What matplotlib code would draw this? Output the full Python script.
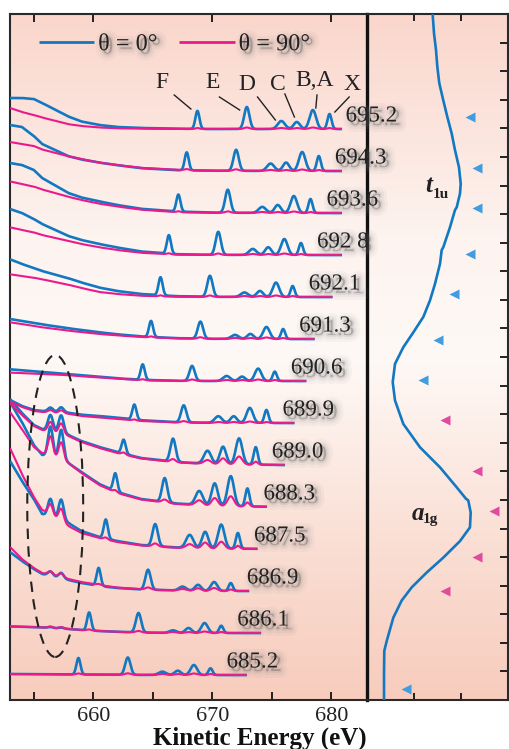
import numpy as np
import matplotlib
matplotlib.use('Agg')
import matplotlib.pyplot as plt
import matplotlib.patheffects as pe
from matplotlib.patches import Ellipse

SERIF = 'Liberation Serif'
plt.rcParams['font.family'] = [SERIF, 'DejaVu Serif']

# ---------------- data ----------------
photon_energy = [695.2, 694.3, 693.6, 692.8, 692.1, 691.3, 690.6,
                 689.9, 689.0, 688.3, 687.5, 686.9, 686.1, 685.2]
energy_labels = ['695.2', '694.3', '693.6', '692 8', '692.1', '691.3', '690.6',
                 '689.9', '689.0', '688.3', '687.5', '686.9', '686.1', '685.2']
trace_end_ke = [680.9, 680.9, 680.9, 680.9, 680.1, 678.6, 677.9,
                676.9, 676.1, 674.6, 673.8, 673.1, 674.1, 672.9]

state_names = ['F', 'E', 'D', 'C', 'B,A', 'X']
state_binding = [26.45, 22.3, 19.4, 18.1, 16.75, 15.35]
state_width = [0.17, 0.22, 0.3, 0.26, 0.27, 0.17]
auger_ke = [656.4, 657.3]
auger_width = 0.21

bg_ke = [653, 654, 655, 655.7, 657.9, 659, 660.5, 662, 664, 667, 670, 676, 683]
blue_bg = [
    [31, 31, 30, 26, 12.5, 7.5, 4, 2, 1, 0.3, 0, 0, 0],
    [46, 44, 35, 27, 14.8, 11.5, 8.4, 5.8, 2.8, 0.8, 0.3, 0, 0],
    [50, 48, 43, 35, 20, 15.5, 11.6, 8, 4.2, 1.5, 0.4, 0, 0],
    [46, 42, 36, 31, 19, 15, 11, 7.5, 3.5, 0.8, 0.2, 0, 0],
    [37.7, 33, 29, 26, 18.8, 14.5, 9.4, 6, 3, 0.8, 0.2, 0, 0],
    [20, 18, 16, 14.6, 10.7, 9, 6.7, 4.7, 2.6, 0.8, 0.2, 0, 0],
    [11.7, 10.7, 9.7, 9, 6.8, 5.7, 4.2, 2.7, 1.2, 0.2, 0, 0, 0],
    [23, 17, 13, 12, 10.2, 8.3, 7, 5.3, 2.8, 0.8, 0.2, 0, 0],
    [66, 52, 40, 36, 30, 24, 18, 13, 7, 3, 1, 0, 0],
    [105, 85, 62, 52, 44, 35, 23, 15, 8, 3.5, 1.2, 0, 0],
    [88, 68, 50, 35, 26, 18, 12, 8, 4, 1.5, 0.5, 0, 0],
    [39, 30, 22, 17, 11, 8, 5, 3, 1.5, 0.5, 0, 0, 0],
    [6.6, 6.2, 5.8, 5.5, 4, 3, 2, 1.2, 0.5, 0, 0, 0, 0],
    [1, 0.9, 0.8, 0.7, 0.6, 0.5, 0.4, 0.3, 0.1, 0, 0, 0, 0],
]
pink_bg = [
    [21, 17, 14, 11.5, 4.8, 3, 1.5, 0.7, 0.3, 0, 0, 0, 0],
    [29, 27, 25, 21.5, 14.7, 12, 8.4, 6, 3.2, 1.2, 0.3, 0, 0],
    [31.6, 29, 26.5, 23.5, 16.2, 13, 9.3, 6.5, 3.3, 0.8, 0.2, 0, 0],
    [27.7, 25, 22.6, 20, 14, 11, 7.7, 5, 2.2, 0.3, 0, 0, 0],
    [22.7, 21, 19.3, 17.7, 12.3, 9, 5, 3, 1.2, 0.2, 0, 0, 0],
    [16.7, 15, 13, 11.7, 8.3, 7, 5, 3.6, 2, 0.6, 0.1, 0, 0],
    [8.4, 7.9, 7.4, 7.1, 5.8, 4.7, 3.5, 2.2, 0.8, 0, 0, 0, 0],
    [21.6, 16, 12, 11, 9.2, 7, 5.5, 4, 2, 0.5, 0, 0, 0],
    [62, 50, 39, 35, 29, 23, 17, 12, 6.5, 2.5, 0.8, 0, 0],
    [95, 78, 60, 54, 44, 34, 22, 14, 7.5, 3, 1, 0, 0],
    [101, 75, 52, 39, 23, 16, 11, 7, 3.5, 1.2, 0.3, 0, 0],
    [44, 32, 23, 18, 12, 9, 6, 3.5, 1.8, 0.6, 0, 0, 0],
    [6.6, 6.2, 5.8, 5.5, 4, 3, 2, 1.2, 0.5, 0, 0, 0, 0],
    [1, 0.9, 0.8, 0.7, 0.6, 0.5, 0.4, 0.3, 0.1, 0, 0, 0, 0],
]
blue_peaks = [
    [18, 22, 8, 7, 19, 15],
    [18, 21, 7.4, 8.4, 19, 15],
    [17, 23, 6, 8, 17, 14],
    [18.5, 23, 6, 7.7, 16, 12],
    [18, 21, 4.4, 6, 14.4, 11],
    [16, 17, 4, 5, 12, 10],
    [15.5, 15, 5, 4.4, 12.4, 9.4],
    [15, 17, 6.6, 6.6, 15, 13],
    [14, 23, 13, 17.5, 26, 17.5],
    [18, 24, 14, 22.5, 30, 18],
    [19, 22, 13, 16.5, 24, 15.7],
    [18, 20, 4, 6, 9, 8],
    [18, 19.5, 2.6, 5, 10, 7.3],
    [16.5, 17.3, 3.3, 4.3, 10, 6.7],
]
pink_peaks = [
    [1, 1.5, 1, 1, 1.5, 1],
    [1, 1.5, 1, 1, 1.5, 1],
    [1, 1.5, 1, 1, 1.5, 1],
    [1, 1.5, 1, 1, 1.5, 1],
    [1, 1.5, 1, 1, 1.5, 1],
    [1, 1.5, 1, 1, 1.5, 1],
    [1, 1.5, 1, 1, 1.5, 1],
    [1, 1.5, 1, 1, 1.5, 1],
    [2, 3, 4, 6, 8, 3],
    [2, 3, 5, 8, 10, 4],
    [2, 3, 4, 6, 7, 3],
    [1, 2, 1.5, 2.5, 3, 1.5],
    [1, 1.5, 1, 1, 1.5, 1],
    [1, 1.5, 1, 1, 1.5, 1],
]
blue_auger = [[0, 0]] * 7 + [[4, 5], [16, 18], [31, 31], [18, 21], [4.5, 5.5], [1, 1], [0, 0]]
pink_auger = [[0, 0]] * 7 + [[2.5, 3], [10, 11], [20, 18], [11, 13], [3.5, 4], [1.5, 1.5], [0, 0]]

# right panel: absorption curve (x: signal, y: photon energy)
abs_energy = [696.98, 696.66, 696.37, 696.08, 695.79, 695.49, 695.20, 694.91, 694.62,
              694.32, 694.03, 693.86, 693.62, 693.57, 693.27, 692.92, 692.87, 692.63,
              692.28, 691.99, 691.70, 691.43, 691.17, 690.88, 690.56, 690.24, 689.83,
              689.42, 689.07, 688.72, 688.52, 688.49, 688.28, 688.02, 687.78, 687.49,
              687.23, 686.97, 686.74, 686.44, 686.03, 685.86, 685.45, 684.99]
abs_signal = [1.398, 1.426, 1.468, 1.496, 1.538, 1.623, 1.709, 1.802, 1.872,
              1.957, 1.994, 1.979, 1.909, 1.872, 1.766, 1.623, 1.589, 1.553,
              1.447, 1.340, 1.198, 0.985, 0.772, 0.596, 0.547, 0.596, 0.772,
              1.128, 1.553, 1.909, 2.106, 2.155, 2.206, 2.191, 1.979, 1.623,
              1.270, 0.951, 0.738, 0.560, 0.419, 0.368, 0.362, 0.362]
tri_value = [2.19, 2.35, 2.33, 2.19, 1.86, 1.52, 1.19,
             1.67, 2.35, 2.70, 2.35, 1.67, None, 0.84]
tri_kind = ['b'] * 7 + ['m'] * 5 + ['', 'b']

# ---------------- style ----------------
BLUE = '#1278c2'
PINK = '#ea1a8c'
TRI_BLUE = '#3f9de0'
TRI_PINK = '#de4b9f'
TXT = '#222222'
trace_spacing = 42.0
bottom_baseline = 25.0

shadow = [pe.Stroke(linewidth=10, foreground='#888888', alpha=0.06, offset=(2.5, -2.5)),
          pe.Stroke(linewidth=6, foreground='#888888', alpha=0.09, offset=(2.5, -2.5)),
          pe.Stroke(linewidth=2.5, foreground='#777777', alpha=0.15, offset=(2.5, -2.5)),
          pe.Normal()]

fig = plt.figure(figsize=(5.09, 7.49), dpi=100)
L, B, H = 10 / 509, 49 / 749, 686 / 749
W1, W2 = 357 / 509, 141 / 509

axbg = fig.add_axes([L, B, W1 + W2, H], zorder=0)
stops = np.array([[0.00, 247, 204, 189], [0.22, 250, 222, 211], [0.50, 254, 249, 246],
                  [0.68, 253, 243, 239], [1.00, 250, 214, 203]])
fr = np.linspace(0, 1, 300)
rgb = np.stack([np.interp(fr, stops[:, 0], stops[:, i]) for i in (1, 2, 3)], axis=1) / 255
axbg.imshow(rgb[:, None, :], aspect='auto', extent=[0, 1, 0, 1], origin='lower')
axbg.axis('off')

ax = fig.add_axes([L, B, W1, H], zorder=1)
ax.patch.set_alpha(0)
axr = fig.add_axes([L + W1, B, W2, H], zorder=1)
axr.patch.set_alpha(0)

# ---------------- left panel ----------------
n = len(photon_energy)
handles = {}
for k, hv in enumerate(photon_energy):
    base = bottom_baseline + trace_spacing * (n - 1 - k)
    ke = np.arange(653.0, trace_end_ke[k] + 1e-9, 0.02)
    for bg, amps, aug, col, lw, z, key in [
            (blue_bg[k], blue_peaks[k], blue_auger[k], BLUE, 1.9, 3, 'b'),
            (pink_bg[k], pink_peaks[k], pink_auger[k], PINK, 1.5, 4, 'm')]:
        y = base + np.interp(ke, bg_ke, bg)
        for be, w, a in zip(state_binding, state_width, amps):
            y = y + a * np.exp(-0.5 * ((ke - (hv - be)) / w) ** 2)
        for c, a in zip(auger_ke, aug):
            y = y + a * np.exp(-0.5 * ((ke - c) / auger_width) ** 2)
        ln, = ax.plot(ke, y, color=col, lw=lw, zorder=z, solid_capstyle='butt')
        handles.setdefault(key, ln)
    t = ax.text(hv - 14.0, base + 13, energy_labels[k], fontsize=16.5, color=TXT,
                ha='left', va='center', zorder=10, clip_on=False)
    t.set_path_effects(shadow)

# state letters and leader lines
letter_pos = [(665.8, 617), (670.0, 618), (672.9, 615), (675.5, 616), (678.6, 620), (681.7, 615)]
leader = [((666.8, 605), (668.2, 591)), ((670.6, 603), (672.3, 590)),
          ((673.8, 603), (675.3, 580)), ((676.1, 606), (676.9, 583)),
          ((678.8, 605), (678.7, 592)), ((681.5, 603), (680.3, 588))]
for name, (lx, ly), (p0, p1) in zip(state_names, letter_pos, leader):
    ax.text(lx, ly, name, fontsize=17, color=TXT, ha='center', va='center', zorder=10,
            clip_on=False)
    ax.plot([p0[0], p1[0]], [p0[1], p1[1]], color=TXT, lw=1.0, zorder=10)

ax.add_patch(Ellipse((656.8, 194), 4.7, 302, fill=False, ls=(0, (5, 3.5)),
                     lw=1.5, ec='#222222', zorder=6))

leg = ax.legend([handles['b'], handles['m']], ['θ = 0°', 'θ = 90°'], loc='upper left',
                bbox_to_anchor=(0.08, 0.972), ncol=2, frameon=False, handlelength=2.3,
                handletextpad=0.15, columnspacing=0.9, borderaxespad=0, borderpad=0,
                prop={'family': SERIF, 'size': 17.5})
for txt in leg.get_texts():
    txt.set_color(TXT)
    txt.set_path_effects(shadow)
for lh in leg.get_lines():
    lh.set_linewidth(2.0)

ax.set_xlim(653, 683)
ax.set_ylim(0, 686)
ax.set_yticks([])
ax.set_xticks([655, 660, 665, 670, 675, 680])
ax.set_xticklabels(['', '660', '', '670', '', '680'])
ax.tick_params(axis='x', direction='in', length=6, width=1.2, pad=5, labelsize=16,
               labelcolor=TXT, top=False)
sec = ax.secondary_xaxis('top')
sec.set_xticks([655, 660, 670, 680])
sec.set_xticklabels([])
sec.tick_params(direction='in', length=6, width=1.2)
sec.spines['top'].set_visible(False)
for s in ['left', 'top', 'bottom']:
    ax.spines[s].set_linewidth(1.5)
    ax.spines[s].set_color('#2a2a2a')
ax.spines['right'].set_linewidth(2.4)
ax.spines['right'].set_color('#111111')

# ---------------- right panel ----------------
axr.plot(abs_signal, abs_energy, color=BLUE, lw=1.9, zorder=3)
for hv, v, kind in zip(photon_energy, tri_value, tri_kind):
    if v is None:
        continue
    axr.plot([v], [hv], marker='<', ms=6.5, mec='none',
             color=TRI_BLUE if kind == 'b' else TRI_PINK, zorder=4)
axr.set_xlim(0, 3)
axr.set_ylim(685, 697)
axr.set_xticks([1, 2])
axr.set_yticks(np.arange(685, 697.01, 0.5))
axr.tick_params(axis='x', direction='in', length=5, width=1.2, top=True, labelbottom=False)
axr.tick_params(axis='y', direction='in', length=6, width=1.2, left=False, right=True,
                labelleft=False)
axr.spines['left'].set_visible(False)
for s in ['top', 'bottom', 'right']:
    axr.spines[s].set_linewidth(1.5)
    axr.spines[s].set_color('#2a2a2a')

axr.text(1.234, 693.88, 't', fontsize=18, fontweight='bold', fontstyle='italic',
         color=TXT, ha='left', va='baseline')
axr.text(1.40, 693.79, '1u', fontsize=11, fontweight='bold', color=TXT,
         ha='left', va='baseline')
axr.text(0.957, 688.15, 'a', fontsize=18, fontweight='bold', fontstyle='italic',
         color=TXT, ha='left', va='baseline')
axr.text(1.19, 688.10, '1g', fontsize=11, fontweight='bold', color=TXT,
         ha='left', va='baseline')

fig.text(260 / 509, 1 - 738 / 749, 'Kinetic Energy (eV)', ha='center', va='center',
         fontsize=18, fontweight='bold', color='#111111')

fig.savefig('out.png', dpi=100)
